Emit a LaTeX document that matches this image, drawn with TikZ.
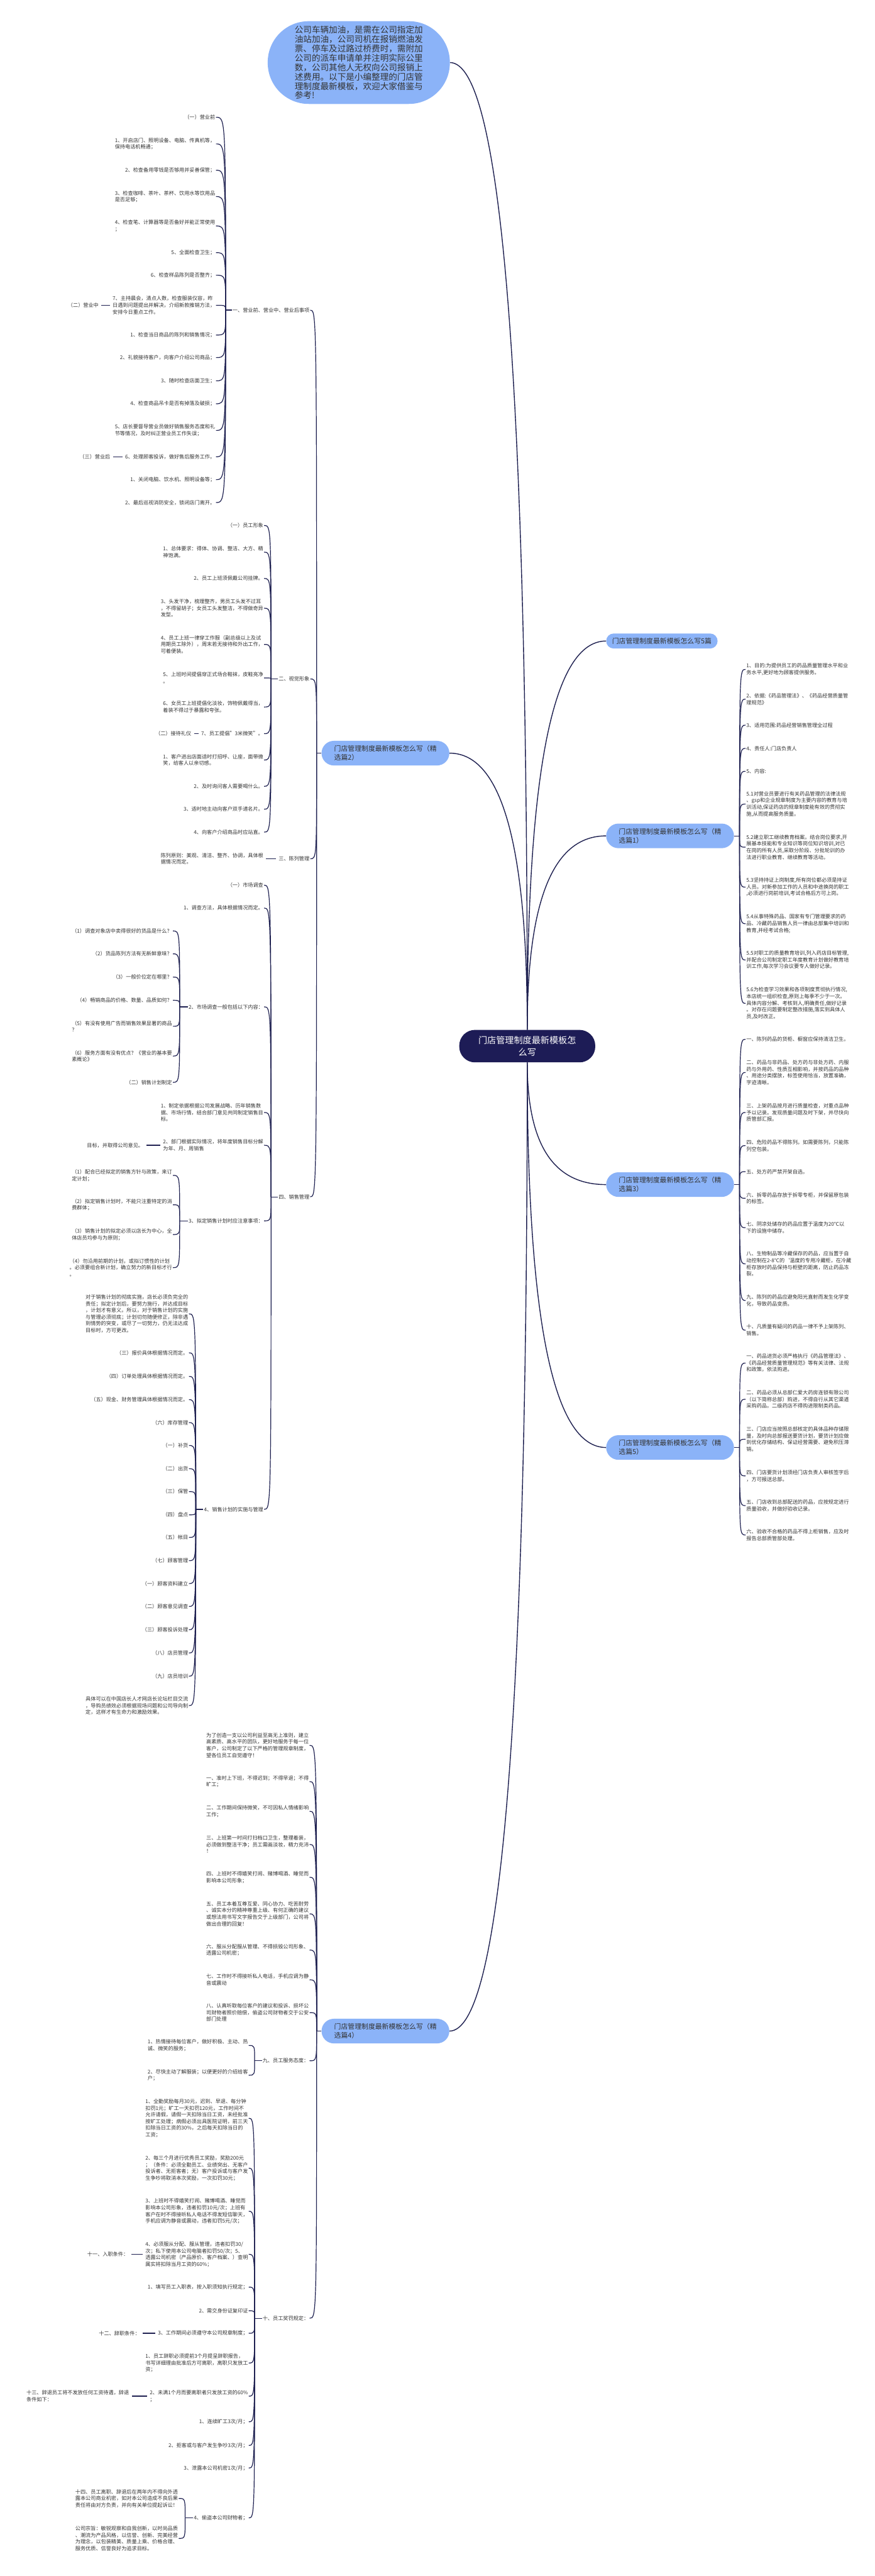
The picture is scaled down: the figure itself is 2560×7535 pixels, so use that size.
\documentclass[tikz,border=0pt]{standalone}
\usepackage{fontspec}
\setmainfont{Noto Sans CJK SC}
\usetikzlibrary{calc}
\definecolor{topicblue}{RGB}{139,179,248}
\definecolor{rootnavy}{RGB}{29,28,86}
\definecolor{linknavy}{RGB}{30,32,80}
\definecolor{leafgray}{RGB}{51,51,51}

\begin{document}
\begin{tikzpicture}[x=0.5pt,y=-0.5pt]
  \tikzset{leafR/.style = {anchor=west, align=left, inner sep=1pt, text=leafgray, font=\fontsize{7.5}{9.75}\selectfont}}
  \tikzset{leafL/.style = {leafR, anchor=east}}
  \tikzset{topic/.style = {fill=topicblue, text=leafgray, align=left, inner sep=2pt, rounded corners=18pt, minimum width=187pt, minimum height=36pt, font=\fontsize{10}{12.5}\selectfont}}
  \tikzset{rootbox/.style = {fill=rootnavy, text=white, align=center, inner sep=2pt, rounded corners=23pt, minimum width=199pt, minimum height=47.5pt, font=\fontsize{13}{17}\selectfont}}
  \tikzset{introbox/.style = {fill=topicblue, text=leafgray, align=left, inner sep=2pt, rounded corners=60pt, minimum width=266.5pt, minimum height=121pt, font=\fontsize{12.5}{13.75}\selectfont}}
  \tikzset{trunk/.style = {draw=linknavy, line width=1.3pt}}
  \tikzset{hook/.style = {draw=linknavy, line width=1.1pt}}
  \tikzset{bar/.style = {draw=linknavy, line width=1.3pt, shorten <=3pt, shorten >=3pt}}

\path[fill=white, use as bounding box] (0,0) rectangle (2560,7535);

% centre and first level
\node[rootbox] (root) at (1543,3060) {门店管理制度最新模板怎\\么写};
\node[introbox] (intro) at (1050,183) {公司车辆加油，是需在公司指定加\\油站加油，公司司机在报销燃油发\\票、停车及过路过桥费时，需附加\\公司的派车申请单并注明实际公里\\数，公司其他人无权向公司报销上\\述费用。以下是小编整理的门店管\\理制度最新模板，欢迎大家借鉴与\\参考!};
\node[topic, minimum width=163pt, minimum height=22pt, rounded corners=11pt] (all5) at (1937,1875) {门店管理制度最新模板怎么写5篇};
\node[topic] (sel1) at (1961,2445) {门店管理制度最新模板怎么写（精\\选篇1）};
\node[topic] (sel2) at (1128,2203) {门店管理制度最新模板怎么写（精\\选篇2）};
\node[topic] (sel3) at (1961,3465) {门店管理制度最新模板怎么写（精\\选篇3）};
\node[topic] (sel4) at (1128,5941) {门店管理制度最新模板怎么写（精\\选篇4）};
\node[topic] (sel5) at (1961,4234) {门店管理制度最新模板怎么写（精\\选篇5）};

\foreach \a/\b in {north/intro.east, north/all5.west, north/sel1.west, north/sel2.east, south/sel3.west, south/sel5.west, south/sel4.east}
  \draw[trunk] (root.\a) .. controls ($(root.\a)!.67!(root.\a |- \b)$) and ($(\b)!.67!(root.\a |- \b)$) .. (\b);

% (精选篇1)
\node[leafR] (s1c1) at (2182,1958) {1、目的:为提供员工的药品质量管理水平和业\\务水平,更好地为顾客提供服务。};
\node[leafR] (s1c2) at (2182,2045) {2、依据:《药品管理法》、《药品经营质量管\\理规范》};
\node[leafR] (s1c3) at (2182,2121) {3、适用范围:药品经营销售管理全过程};
\node[leafR] (s1c4) at (2182,2189) {4、责任人:门店负责人};
\node[leafR] (s1c5) at (2182,2256) {5、内容:};
\node[leafR] (s1c6) at (2182,2352) {5.1对营业员要进行有关药品管理的法律法规\\、gsp和企业规章制度为主要内容的教育与培\\训活动,保证药店的规章制度能有效的贯彻实\\施,从而提高服务质量。};
\node[leafR] (s1c7) at (2182,2478) {5.2建立职工继续教育档案。结合岗位要求,开\\展基本技能和专业知识等岗位知识培训,对已\\在岗的所有人员,采取分阶段、分批轮训的办\\法进行职业教育、继续教育等活动。};
\node[leafR] (s1c8) at (2182,2595) {5.3坚持持证上岗制度,所有岗位都必须是持证\\人员。对新参加工作的人员和中途换岗的职工\\,必须进行岗前培训,考试合格后方可上岗。};
\node[leafR] (s1c9) at (2182,2702) {5.4从事特殊药品、国家有专门管理要求的药\\品、冷藏药品销售人员一律由总部集中培训和\\教育,并经考试合格;};
\node[leafR] (s1c10) at (2182,2808) {5.5对职工的质量教育培训,列入药店目标管理,\\并配合公司制定职工年度教育计划做好教育培\\训工作,每次学习会议要专人做好记录。};
\node[leafR] (s1c11) at (2182,2935) {5.6为检查学习效果和各项制度贯彻执行情况,\\本店统一组织检查,原则上每季不少于一次。\\具体内容分解、考核到人,明确责任,做好记录\\。对存在问题要制定整改措施,落实到具体人\\员,及时改正。};
\path (sel1.east) ++(16,0) coordinate (j1);
\draw[hook] (sel1.east) -- (j1);
\foreach \i in {1,...,11}
  \draw[hook] (j1) .. controls (j1 |- s1c\i.west) .. (s1c\i.west);

% (精选篇3)
\node[leafR] (s3c1) at (2182,3040) {一、陈列药品的货柜、橱窗应保持清洁卫生。};
\node[leafR] (s3c2) at (2182,3137) {二、药品与非药品、处方药与非处方药、内服\\药与外用药、性质互相影响，并按药品的品种\\、用途分类摆放，标签使用恰当，放置准确，\\字迹清晰。};
\node[leafR] (s3c3) at (2182,3254) {三、上架药品按月进行质量检查，对重点品种\\予以记录。发现质量问题及时下架，并尽快向\\质管部汇报。};
\node[leafR] (s3c4) at (2182,3351) {四、危险药品不得陈列。如需要陈列，只能陈\\列空包装。};
\node[leafR] (s3c5) at (2182,3427) {五、处方药严禁开架自选。};
\node[leafR] (s3c6) at (2182,3505) {六、拆零药品存放于拆零专柜，并保留原包装\\的标签。};
\node[leafR] (s3c7) at (2182,3591) {七、阴凉处储存的药品应置于温度为20℃以\\下的设施中储存。};
\node[leafR] (s3c8) at (2182,3697) {八、生物制品等冷藏保存的药品，应当置于自\\动控制在2-8℃的‘温度的专用冷藏柜，在冷藏\\柜存放时药品保持与柜壁的距离，防止药品冻\\裂。};
\node[leafR] (s3c9) at (2182,3804) {九、陈列的药品应避免阳光直射而发生化学变\\化，导致药品变质。};
\node[leafR] (s3c10) at (2182,3891) {十、凡质量有疑问的药品一律不予上架陈列、\\销售。};
\path (sel3.east) ++(16,0) coordinate (j3);
\draw[hook] (sel3.east) -- (j3);
\foreach \i in {1,...,10}
  \draw[hook] (j3) .. controls (j3 |- s3c\i.west) .. (s3c\i.west);

% (精选篇5)
\node[leafR] (s5c1) at (2182,3987) {一、药品进货必须严格执行《药品管理法》、\\《药品经营质量管理规范》等有关法律、法规\\和政策，依法购进。};
\node[leafR] (s5c2) at (2182,4093) {二、药品必须从总部仁爱大药房连锁有限公司\\（以下简称总部）购进，不得自行从其它渠道\\采购药品。二级药店不得购进限制类药品。};
\node[leafR] (s5c3) at (2182,4210) {三、门店应当按照总部核定的具体品种存储限\\量，及时向总部报送要货计划，要货计划应做\\到优化存储结构、保证经营需要、避免积压滞\\销。};
\node[leafR] (s5c4) at (2182,4317) {四、门店要货计划须经门店负责人审核签字后\\，方可报送总部。};
\node[leafR] (s5c5) at (2182,4404) {五、门店收到总部配送的药品，应按规定进行\\质量验收，并做好验收记录。};
\node[leafR] (s5c6) at (2182,4490) {六、验收不合格的药品不得上柜销售，应及时\\报告总部质管部处理。};
\path (sel5.east) ++(16,0) coordinate (j5);
\draw[hook] (sel5.east) -- (j5);
\foreach \i in {1,...,6}
  \draw[hook] (j5) .. controls (j5 |- s5c\i.west) .. (s5c\i.west);

% (精选篇2)
\node[leafL] (a1) at (908,907) {一、营业前、营业中、营业后事项};
\node[leafL] (a2) at (908,1986) {二、视觉形象};
\node[leafL] (a3) at (908,2512) {三、陈列管理};
\node[leafL] (a4) at (908,3501) {四、销售管理};
\path (sel2.west) ++(-14,0) coordinate (j2);
\draw[hook] (sel2.west) -- (j2);
\foreach \i in {1,...,4}
  \draw[hook] (j2) .. controls (j2 |- a\i.east) .. (a\i.east);

\node[leafL] (a1c1) at (632,343) {（一）营业前};
\node[leafL] (a1c2) at (632,421) {1、开启店门、照明设备、电脑、传真机等，\\保持电话机畅通；};
\node[leafL] (a1c3) at (632,498) {2、检查备用零钱是否够用并妥善保管；};
\node[leafL] (a1c4) at (632,575) {3、检查咖啡、茶叶、茶杯、饮用水等饮用品\\是否足够；};
\node[leafL] (a1c5) at (632,661) {4、检查笔、计算器等是否备好并能正常使用\\；};
\node[leafL] (a1c6) at (632,739) {5、全面检查卫生；};
\node[leafL] (a1c7) at (632,805) {6、检查样品陈列是否整齐；};
\node[leafL] (a1c8) at (632,893) {7、主持晨会，清点人数，检查服装仪容，昨\\日遇到问题提出并解决，介绍新款推销方法，\\安排今日重点工作。};
\node[leafL] (a1c9) at (632,980) {1、检查当日商品的陈列和销售情况；};
\node[leafL] (a1c10) at (632,1046) {2、礼貌接待客户，向客户介绍公司商品；};
\node[leafL] (a1c11) at (632,1114) {3、随时检查店面卫生；};
\node[leafL] (a1c12) at (632,1181) {4、检查商品吊卡是否有掉落及破损；};
\node[leafL] (a1c13) at (632,1259) {5、店长要督导营业员做好销售服务态度和礼\\节等情况，及时纠正营业员工作失误；};
\node[leafL] (a1c14) at (632,1336) {6、处理顾客投诉，做好售后服务工作。};
\node[leafL] (a1c15) at (632,1403) {1、关闭电脑、饮水机、照明设备等；};
\node[leafL] (a1c16) at (632,1470) {2、最后巡视消防安全，锁闭店门离开。};
\path (a1.west) ++(-18,0) coordinate (ja1);
\draw[hook] (a1.west) -- (ja1);
\foreach \i in {1,...,16}
  \draw[hook] (ja1) .. controls (ja1 |- a1c\i.east) .. (a1c\i.east);
\node[leafL] (x1) at (291,893) {（二）营业中};
\node[leafL] (x2) at (325,1336) {（三）营业后};
\draw[bar] (a1c8.west) -- (x1.east);
\draw[bar] (a1c14.west) -- (x2.east);

\node[leafL] (a2c1) at (773,1537) {（一）员工形象};
\node[leafL] (a2c2) at (773,1615) {1、总体要求：得体、协调、整洁、大方、精\\神饱满。};
\node[leafL] (a2c3) at (773,1692) {2、员工上班须佩戴公司挂牌。};
\node[leafL] (a2c4) at (773,1779) {3、头发干净，梳理整齐，男员工头发不过耳\\，不得留胡子；女员工头发整洁，不得做奇异\\发型。};
\node[leafL] (a2c5) at (773,1885) {4、员工上班一律穿工作服（副总级以上及试\\用期员工除外），周末若无接待和外出工作，\\可着便装。};
\node[leafL] (a2c6) at (773,1983) {5、上班时间提倡穿正式场合鞋袜，皮鞋亮净\\。};
\node[leafL] (a2c7) at (773,2068) {6、女员工上班提倡化淡妆，饰物佩戴得当，\\着装不得过于暴露和夸张。};
\node[leafL] (a2c8) at (773,2146) {7、员工提倡"3米微笑"。};
\node[leafL] (a2c9) at (773,2223) {1、客户进出店面适时打招呼、让座，面带微\\笑，给客人以亲切感。};
\node[leafL] (a2c10) at (773,2300) {2、及时询问客人需要喝什么。};
\node[leafL] (a2c11) at (773,2367) {3、适时地主动向客户双手递名片。};
\node[leafL] (a2c12) at (773,2434) {4、向客户介绍商品时应站直。};
\path (a2.west) ++(-20,0) coordinate (ja2);
\draw[hook] (a2.west) -- (ja2);
\foreach \i in {1,...,12}
  \draw[hook] (ja2) .. controls (ja2 |- a2c\i.east) .. (a2c\i.east);
\node[leafL] (x3) at (562,2146) {（二）接待礼仪};
\draw[bar] (a2c8.west) -- (x3.east);

\node[leafL] (a3c1) at (773,2512) {陈列原则：美观、清洁、整齐、协调，具体根\\据情况而定。};
\draw[bar] (a3.west) -- (a3c1.east);

\node[leafL] (a4c1) at (773,2589) {（一）市场调查};
\node[leafL] (a4c2) at (773,2656) {1、调查方法，具体根据情况而定。};
\node[leafL] (a4c3) at (773,2945) {2、市场调查一般包括以下内容：};
\node[leafL] (a4c4) at (773,3254) {1、制定依据根据公司发展战略、历年销售数\\据、市场行情，结合部门意见共同制定销售目\\标。};
\node[leafL] (a4c5) at (773,3350) {2、部门根据实际情况，将年度销售目标分解\\为年、月、周销售};
\node[leafL] (a4c6) at (773,3571) {3、拟定销售计划时应注意事项：};
\node[leafL] (a4c7) at (773,4415) {4、销售计划的实施与管理};
\path (a4.west) ++(-20,0) coordinate (ja4);
\draw[hook] (a4.west) -- (ja4);
\foreach \i in {1,...,7}
  \draw[hook] (ja4) .. controls (ja4 |- a4c\i.east) .. (a4c\i.east);
\node[leafL] (x4) at (422,3350) {目标，并取得公司意见。};
\draw[bar] (a4c5.west) -- (x4.east);

\node[leafL] (q3c1) at (506,2723) {（1）调查对象店中卖得很好的货品是什么？};
\node[leafL] (q3c2) at (506,2790) {（2）货品陈列方法有无新鲜意味？};
\node[leafL] (q3c3) at (506,2858) {（3）一般价位定在哪里？};
\node[leafL] (q3c4) at (506,2926) {（4）畅销商品的价格、数量、品质如何？};
\node[leafL] (q3c5) at (506,3002) {（5）有没有使用广告而销售效果显著的商品\\？};
\node[leafL] (q3c6) at (506,3089) {（6）服务方面有没有优点？《营业的基本要\\素概论》};
\node[leafL] (q3c7) at (506,3166) {（二）销售计划制定};
\path (a4c3.west) ++(-24,0) coordinate (jq3);
\draw[hook] (a4c3.west) -- (jq3);
\foreach \i in {1,...,7}
  \draw[hook] (jq3) .. controls (jq3 |- q3c\i.east) .. (q3c\i.east);

\node[leafL] (q6c1) at (506,3438) {（1）配合已经拟定的销售方针与政策，来订\\定计划；};
\node[leafL] (q6c2) at (506,3524) {（2）拟定销售计划时，不能只注重特定的消\\费群体；};
\node[leafL] (q6c3) at (506,3611) {（3）销售计划的拟定必须以店长为中心，全\\体店员均参与为原则；};
\node[leafL] (q6c4) at (506,3708) {（4）勿沿用前期的计划，或拟订惯性的计划\\。必须要组合新计划，确立努力的新目标才行\\。};
\path (a4c6.west) ++(-24,0) coordinate (jq6);
\draw[hook] (a4c6.west) -- (jq6);
\foreach \i in {1,...,4}
  \draw[hook] (jq6) .. controls (jq6 |- q6c\i.east) .. (q6c\i.east);

\node[leafL] (q7c1) at (553,3843) {对于销售计划的彻底实施，店长必须负完全的\\责任；拟定计划后，要努力施行，并达成目标\\，计划才有意义。所以，对于销售计划的实施\\与管理必须彻底；计划切勿随便修正，除非遇\\到情势的突变，或尽了一切努力，仍无法达成\\目标时，方可更改。};
\node[leafL] (q7c2) at (553,3957) {（三）报价具体根据情况而定。};
\node[leafL] (q7c3) at (553,4026) {（四）订单处理具体根据情况而定。};
\node[leafL] (q7c4) at (553,4094) {（五）现金、财务管理具体根据情况而定。};
\node[leafL] (q7c5) at (553,4161) {（六）库存管理};
\node[leafL] (q7c6) at (553,4228) {（一）补货};
\node[leafL] (q7c7) at (553,4296) {（二）出货};
\node[leafL] (q7c8) at (553,4363) {（三）保管};
\node[leafL] (q7c9) at (553,4431) {（四）盘点};
\node[leafL] (q7c10) at (553,4497) {（五）帐目};
\node[leafL] (q7c11) at (553,4565) {（七）顾客管理};
\node[leafL] (q7c12) at (553,4632) {（一）顾客资料建立};
\node[leafL] (q7c13) at (553,4699) {（二）顾客意见调查};
\node[leafL] (q7c14) at (553,4767) {（三）顾客投诉处理};
\node[leafL] (q7c15) at (553,4835) {（八）店员管理};
\node[leafL] (q7c16) at (553,4903) {（九）店员培训};
\node[leafL] (q7c17) at (553,4989) {具体可以在中国店长人才网店长论坛栏目交流\\，导购员绩效必须根据现场问题和公司导向制\\定，这样才有生命力和激励效果。};
\path (a4c7.west) ++(-22,0) coordinate (jq7);
\draw[hook] (a4c7.west) -- (jq7);
\foreach \i in {1,...,17}
  \draw[hook] (jq7) .. controls (jq7 |- q7c\i.east) .. (q7c\i.east);

% (精选篇4)
\node[leafL] (s4c1) at (906,5105) {为了创造一支以公司利益至高无上准则，建立\\高素质、高水平的团队，更好地服务于每一位\\客户，公司制定了以下严格的管理规章制度，\\望各位员工自觉遵守！};
\node[leafL] (s4c2) at (906,5211) {一、准时上下班，不得迟到；不得早退；不得\\旷工；};
\node[leafL] (s4c3) at (906,5298) {二、工作期间保持微笑，不可因私人情绪影响\\工作；};
\node[leafL] (s4c4) at (906,5395) {三、上班第一时间打扫档口卫生，整理着装，\\必须做到整洁干净；员工需画淡妆，精力充沛\\！};
\node[leafL] (s4c5) at (906,5491) {四、上班时不得嬉笑打闹、赌博喝酒、睡觉而\\影响本公司形象；};
\node[leafL] (s4c6) at (906,5598) {五、员工本着互尊互爱、同心协力、吃苦耐劳\\、诚实本分的精神尊重上级、有何正确的建议\\或想法用书写文字报告交于上级部门，公司将\\做出合理的回复！};
\node[leafL] (s4c7) at (906,5704) {六、服从分配服从管理、不得损毁公司形象、\\透露公司机密；};
\node[leafL] (s4c8) at (906,5791) {七、工作时不得接听私人电话，手机应调为静\\音或震动};
\node[leafL] (s4c9) at (906,5887) {八、认真听取每位客户的建议和投诉、损坏公\\司财物者照价赔偿，偷盗公司财物者交于公安\\部门处理};
\node[leafL] (s4c10) at (906,6028) {九、员工服务态度：};
\node[leafL] (s4c11) at (906,6781) {十、员工奖罚规定：};
\path (sel4.west) ++(-14,0) coordinate (j4);
\draw[hook] (sel4.west) -- (j4);
\foreach \i in {1,...,11}
  \draw[hook] (j4) .. controls (j4 |- s4c\i.east) .. (s4c\i.east);

\node[leafL] (t9c1) at (728,5983) {1、热情接待每位客户，做好积极、主动、热\\诚、微笑的服务；};
\node[leafL] (t9c2) at (728,6070) {2、尽快主动了解服装；以便更好的介绍给客\\户；};
\path (s4c10.west) ++(-21,0) coordinate (jt9);
\draw[hook] (s4c10.west) -- (jt9);
\foreach \i in {1,2}
  \draw[hook] (jt9) .. controls (jt9 |- t9c\i.east) .. (t9c\i.east);

\node[leafL] (t10c1) at (728,6196) {1、全勤奖励每月30元，迟到、早退、每分钟\\扣罚1元；旷工一天扣罚120元，工作时间不\\允许请假，请假一天扣除当日工资，未经批准\\按旷工处理；病假必须出具医院证明，前三天\\扣除当日工资的30\%，之后每天扣除当日的\\工资；};
\node[leafL] (t10c2) at (728,6342) {2、每三个月进行优秀员工奖励，奖励200元\\；（条件：必须全勤员工、业绩突出、无客户\\投诉者、无拒客者；无）客户投诉或与客户发\\生争吵将取消本次奖励，一次扣罚30元；};
\node[leafL] (t10c3) at (728,6468) {3、上班时不得嬉笑打闹、赌博喝酒、睡觉而\\影响本公司形象，违者扣罚10元/次；上班有\\客户在时不得接听私人电话不得发短信聊天，\\手机应调为静音或震动，违者扣罚5元/次；};
\node[leafL] (t10c4) at (728,6594) {4、必须服从分配、服从管理，违者扣罚30/\\次；私下使用本公司电脑者扣罚50/次；5、\\透露公司机密（产品原价、客户档案、）查明\\属实将扣除当月工资的60\%；};
\node[leafL] (t10c5) at (728,6690) {1、填写员工入职表，按入职须知执行规定；};
\node[leafL] (t10c6) at (728,6759) {2、需交身份证复印证};
\node[leafL] (t10c7) at (728,6825) {3、工作期间必须遵守本公司规章制度；};
\node[leafL] (t10c8) at (728,6912) {1、员工辞职必须提前3个月提呈辞职报告，\\书写详细理由批准后方可离职，离职只发放工\\资；};
\node[leafL] (t10c9) at (728,7009) {2、未满1个月而要离职者只发放工资的60\%\\；};
\node[leafL] (t10c10) at (728,7084) {1、连续旷工3次/月；};
\node[leafL] (t10c11) at (728,7153) {2、拒客或与客户发生争吵3次/月；};
\node[leafL] (t10c12) at (728,7219) {3、泄露本公司机密1次/月；};
\node[leafL] (t10c13) at (728,7365) {4、偷盗本公司财物者；};
\path (s4c11.west) ++(-21,0) coordinate (jt10);
\draw[hook] (s4c11.west) -- (jt10);
\foreach \i in {1,...,13}
  \draw[hook] (jt10) .. controls (jt10 |- t10c\i.east) .. (t10c\i.east);
\node[leafL] (x5) at (378,6594) {十一、入职条件：};
\node[leafL] (x6) at (412,6825) {十二、辞职条件：};
\node[leafL] (x7) at (380,7009) {十三、辞退员工将不发放任何工资待遇，辞退\\条件如下：};
\draw[bar] (t10c4.west) -- (x5.east);
\draw[bar] (t10c7.west) -- (x6.east);
\draw[bar] (t10c9.west) -- (x7.east);

\node[leafL] (u1) at (523,7308) {十四、员工离职、辞退后在两年内不得向外透\\露本公司商业机密，如对本公司造成不良后果\\责任将由对方负责，并向有关单位提起诉讼！};
\node[leafL] (u2) at (523,7425) {公司宗旨：敏锐观察和自我创新，以时尚品质\\、潮流为产品风格，以信誉、创新、完美经营\\为理念，以包装精美、质量上乘、价格合理、\\服务优质、信誉良好为追求目标。};
\path (t10c13.west) ++(-23,0) coordinate (ju);
\draw[hook] (t10c13.west) -- (ju);
\foreach \i in {1,2}
  \draw[hook] (ju) .. controls (ju |- u\i.east) .. (u\i.east);

\end{tikzpicture}
\end{document}
